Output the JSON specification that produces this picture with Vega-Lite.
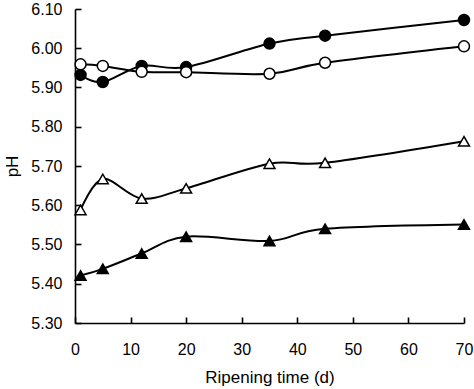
{
  "$schema": "https://vega.github.io/schema/vega-lite/v6.json",
  "width": 389,
  "height": 314,
  "autosize": "none",
  "padding": {"left": 75, "top": 9, "right": 10, "bottom": 66},
  "background": "white",
  "config": {
    "view": {"stroke": null},
    "axis": {
      "labelFont": "Liberation Sans",
      "titleFont": "Liberation Sans",
      "labelFontSize": 16,
      "titleFontSize": 17,
      "titleFontWeight": "normal",
      "labelColor": "black",
      "titleColor": "black",
      "domainColor": "black",
      "tickColor": "black",
      "domainWidth": 1.6,
      "tickWidth": 1.6,
      "grid": false
    }
  },
  "data": {
    "values": [
      {"t": 1, "pH": 5.932, "s": "fc"},
      {"t": 5, "pH": 5.914, "s": "fc"},
      {"t": 12, "pH": 5.955, "s": "fc"},
      {"t": 20, "pH": 5.952, "s": "fc"},
      {"t": 35, "pH": 6.012, "s": "fc"},
      {"t": 45, "pH": 6.032, "s": "fc"},
      {"t": 70, "pH": 6.072, "s": "fc"},
      {"t": 1, "pH": 5.959, "s": "oc"},
      {"t": 5, "pH": 5.955, "s": "oc"},
      {"t": 12, "pH": 5.940, "s": "oc"},
      {"t": 20, "pH": 5.939, "s": "oc"},
      {"t": 35, "pH": 5.935, "s": "oc"},
      {"t": 45, "pH": 5.963, "s": "oc"},
      {"t": 70, "pH": 6.005, "s": "oc"},
      {"t": 1, "pH": 5.588, "s": "ot"},
      {"t": 5, "pH": 5.667, "s": "ot"},
      {"t": 12, "pH": 5.617, "s": "ot"},
      {"t": 20, "pH": 5.643, "s": "ot"},
      {"t": 35, "pH": 5.706, "s": "ot"},
      {"t": 45, "pH": 5.708, "s": "ot"},
      {"t": 70, "pH": 5.763, "s": "ot"},
      {"t": 1, "pH": 5.421, "s": "ft"},
      {"t": 5, "pH": 5.438, "s": "ft"},
      {"t": 12, "pH": 5.477, "s": "ft"},
      {"t": 20, "pH": 5.520, "s": "ft"},
      {"t": 35, "pH": 5.509, "s": "ft"},
      {"t": 45, "pH": 5.540, "s": "ft"},
      {"t": 70, "pH": 5.551, "s": "ft"}
    ]
  },
  "encoding": {
    "x": {
      "field": "t",
      "type": "quantitative",
      "scale": {"domain": [0, 70], "nice": false},
      "axis": {
        "values": [0, 10, 20, 30, 40, 50, 60, 70],
        "title": "Ripening time (d)",
        "tickSize": -6,
        "labelPadding": 24,
        "titlePadding": 12,
        "labelFlush": false
      }
    },
    "y": {
      "field": "pH",
      "type": "quantitative",
      "scale": {"domain": [5.3, 6.1], "nice": false, "zero": false},
      "axis": {
        "values": [5.3, 5.4, 5.5, 5.6, 5.7, 5.8, 5.9, 6.0, 6.1],
        "format": ".2f",
        "title": "pH",
        "tickSize": -6,
        "labelPadding": 19,
        "titlePadding": 9,
        "labelFlush": false
      }
    }
  },
  "layer": [
    {
      "mark": {"type": "line", "interpolate": "cardinal", "color": "black", "strokeWidth": 2},
      "encoding": {"detail": {"field": "s"}}
    },
    {
      "mark": {"type": "point", "filled": true, "stroke": "black", "strokeWidth": 1.5, "opacity": 1, "size": 120},
      "encoding": {
        "shape": {
          "field": "s",
          "scale": {"domain": ["fc", "oc", "ot", "ft"], "range": ["circle", "circle", "triangle-up", "triangle-up"]},
          "legend": null
        },
        "fill": {
          "field": "s",
          "scale": {"domain": ["fc", "oc", "ot", "ft"], "range": ["black", "white", "white", "black"]},
          "legend": null
        }
      }
    }
  ]
}
